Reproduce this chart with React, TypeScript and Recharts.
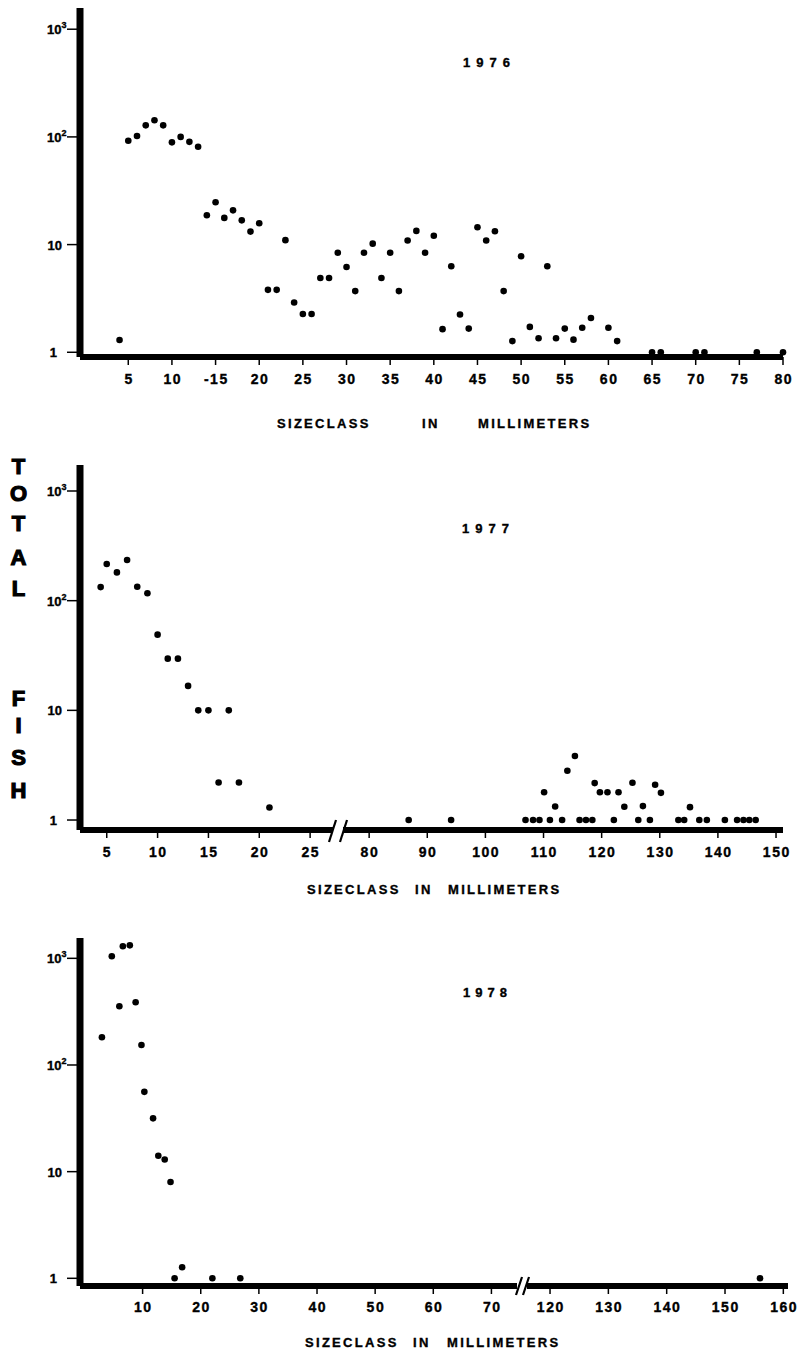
import React from 'react';
import { ScatterChart, Scatter, XAxis, YAxis } from 'recharts';

// ---------- DATA ----------
const yTicks = [1, 10, 100, 1000];

const sizes1976 = [4, 5, 6, 7, 8, 9, 10, 11, 12, 13, 14, 15, 16, 17, 18, 19, 20, 21, 22, 23, 24, 25, 26, 27, 28, 29, 30, 31, 32, 33, 34, 35, 36, 37, 38, 39, 40, 41, 42, 43, 44, 45, 46, 47, 48, 49, 50, 51, 52, 53, 54, 55, 56, 57, 58, 60, 61, 65, 66, 70, 71, 77, 80];
const fish1976 = [1.3, 92, 102, 128, 143, 128, 89, 100, 90, 81, 18.7, 24.7, 17.7, 20.8, 16.8, 13.2, 15.8, 3.8, 3.8, 11, 2.9, 2.27, 2.27, 4.9, 4.9, 8.4, 6.2, 3.7, 8.4, 10.2, 4.9, 8.4, 3.7, 10.9, 13.4, 8.4, 12.1, 1.64, 6.3, 2.24, 1.66, 14.5, 10.9, 13.3, 3.7, 1.27, 7.8, 1.72, 1.35, 6.3, 1.35, 1.66, 1.31, 1.69, 2.08, 1.69, 1.27, 1, 1, 1, 1, 1, 1];
const xTicks1976 = [5, 10, 15, 20, 25, 30, 35, 40, 45, 50, 55, 60, 65, 70, 75, 80];
const xTickLabels1976 = ['5', '10', '-15', '20', '25', '30', '35', '40', '45', '50', '55', '60', '65', '70', '75', '80'];

const sizes1977Small = [4.4, 5, 6, 7, 8, 9, 10, 11, 12, 13, 14, 15, 16, 17, 18, 21];
const fish1977Small = [133, 216, 181, 235, 134, 117, 49, 29.6, 29.6, 16.7, 10, 10, 2.2, 10, 2.2, 1.3];
const sizes1977Large = [86.8, 94.1, 106.9, 108.2, 109.3, 110.1, 111.1, 112, 113.2, 114.1, 115.4, 116.2, 117.3, 118.4, 118.8, 119.7, 121, 122.1, 122.9, 123.9, 125.3, 126.3, 127.1, 128.3, 129.2, 130.2, 133.2, 134.2, 135.2, 136.8, 138.1, 141.2, 143.3, 144.4, 145.4, 146.5];
const fish1977Large = [1, 1, 1, 1, 1, 1.79, 1, 1.33, 1, 2.81, 3.84, 1, 1, 1, 2.17, 1.79, 1.79, 1, 1.79, 1.32, 2.19, 1, 1.34, 1, 2.1, 1.77, 1, 1, 1.31, 1, 1, 1, 1, 1, 1, 1];
const xTicks1977Small = [5, 10, 15, 20, 25];
const xTicks1977Large = [80, 90, 100, 110, 120, 130, 140, 150];

const sizes1978Small = [3, 4.7, 6, 6.6, 7.8, 8.8, 9.8, 10.3, 11.8, 12.7, 13.8, 14.8, 15.5, 16.8, 22, 26.8];
const fish1978Small = [182, 1045, 355, 1296, 1324, 387, 154, 56, 31.6, 14.1, 13, 8, 1, 1.27, 1, 1];
const sizes1978Large = [156];
const fish1978Large = [1];
const xTicks1978Small = [10, 20, 30, 40, 50, 60, 70];
const xTicks1978Large = [120, 130, 140, 150, 160];

const yearTitles = ['1976', '1977', '1978'];
const xAxisTitleWords = ['SIZECLASS', 'IN', 'MILLIMETERS'];
const yAxisTitleLetters = ['T', 'O', 'T', 'A', 'L', 'F', 'I', 'S', 'H'];

// ---------- HELPERS ----------
const FONT = '"Liberation Sans", Arial, Helvetica, sans-serif';
const HEAVY = { stroke: '#000', strokeWidth: 0.35 };

const toPoints = (xs: number[], ys: number[]) => xs.map((x, i) => ({ x, y: ys[i] }));

const Dot = (props: any) => {
  const { cx, cy } = props;
  if (cx == null || cy == null) return null;
  return <circle cx={cx} cy={cy} r={3.3} fill="#000" />;
};

const YTick = (props: any) => {
  const { y, payload } = props;
  const v = payload.value;
  const exp = Math.round(Math.log10(v));
  const common = { fontFamily: FONT, fontWeight: 'bold' as const, fontSize: 13, fill: '#000', ...HEAVY };
  if (exp === 0) {
    return <text x={57} y={y + 5} textAnchor="end" {...common}>1</text>;
  }
  if (exp === 1) {
    return <text x={62} y={y + 5} textAnchor="end" {...common}>10</text>;
  }
  return (
    <text x={47} y={y + 5} textAnchor="start" {...common}>
      10
      <tspan dy={-6} fontSize={9}>{exp}</tspan>
    </text>
  );
};

const makeXTick = (ticks: number[], labels: string[] | null, dy: number) => (props: any) => {
  const { x, y, payload } = props;
  const i = ticks.indexOf(payload.value);
  const label = labels && i >= 0 ? labels[i] : String(payload.value);
  return (
    <text x={x + 0.75} y={y + dy} textAnchor="middle" fontFamily={FONT} fontWeight="bold" fontSize={14} letterSpacing={1.5} fill="#000" {...HEAVY}>
      {label}
    </text>
  );
};

type SegProps = {
  left: number;
  top: number;
  width: number;
  height: number;
  margin: { top: number; right: number; bottom: number; left: number };
  data: { x: number; y: number }[];
  xDomain: [number, number];
  yDomain: [number, number];
  xTicks: number[];
  xLabels: string[] | null;
  labelDy: number;
  xAxisHeight: number;
  showY: boolean;
};

const Segment = (p: SegProps) => (
  <div style={{ position: 'absolute', left: p.left, top: p.top, width: p.width, height: p.height }}>
    <ScatterChart width={p.width} height={p.height} margin={p.margin}>
      <XAxis
        type="number"
        dataKey="x"
        domain={p.xDomain}
        ticks={p.xTicks}
        interval={0}
        height={p.xAxisHeight}
        axisLine={{ stroke: '#000', strokeWidth: 6 }}
        tickLine={{ stroke: '#000', strokeWidth: 1.5 }}
        tickSize={8}
        tickMargin={2}
        tick={makeXTick(p.xTicks, p.xLabels, p.labelDy)}
      />
      <YAxis
        type="number"
        dataKey="y"
        scale="log"
        domain={p.yDomain}
        ticks={yTicks}
        interval={0}
        width={80}
        hide={!p.showY}
        axisLine={{ stroke: '#000', strokeWidth: 7 }}
        tickLine={{ stroke: '#000', strokeWidth: 1.5 }}
        tickSize={13}
        tick={YTick}
      />
      <Scatter data={p.data} isAnimationActive={false} shape={Dot} />
    </ScatterChart>
  </div>
);

const AxisTitle = ({ y, xs }: { y: number; xs: number[] }) => (
  <>
    {xAxisTitleWords.map((w, i) => (
      <text key={w} x={xs[i]} y={y} fontFamily={FONT} fontWeight="bold" fontSize={13} letterSpacing={2.3} fill="#000" {...HEAVY}>
        {w}
      </text>
    ))}
  </>
);

const letterCenters = [465, 492, 522, 556, 587, 697, 724, 756, 789];

export default function App() {
  const yDom1: [number, number] = [0.904, 1574];
  const yDom2: [number, number] = [0.811, 1726];
  const yDom3: [number, number] = [0.847, 1551];
  return (
    <div style={{ position: 'absolute', left: 0, top: 0, width: 800, height: 1353, background: '#fff', overflow: 'hidden' }}>
      {/* 1976 */}
      <Segment
        left={0} top={0} width={800} height={400}
        margin={{ top: 8, right: 17, bottom: 0, left: 0 }}
        data={toPoints(sizes1976, fish1976)}
        xDomain={[-0.53, 80]} yDomain={yDom1}
        xTicks={xTicks1976} xLabels={xTickLabels1976}
        labelDy={17} xAxisHeight={43} showY
      />
      {/* 1977 */}
      <Segment
        left={0} top={440} width={340} height={430}
        margin={{ top: 25, right: 7, bottom: 0, left: 0 }}
        data={toPoints(sizes1977Small, fish1977Small)}
        xDomain={[2.37, 27.25]} yDomain={yDom2}
        xTicks={xTicks1977Small} xLabels={null}
        labelDy={16.5} xAxisHeight={40} showY
      />
      <Segment
        left={335} top={440} width={465} height={430}
        margin={{ top: 25, right: 17, bottom: 0, left: 8 }}
        data={toPoints(sizes1977Large, fish1977Large)}
        xDomain={[75.5, 151.2]} yDomain={yDom2}
        xTicks={xTicks1977Large} xLabels={null}
        labelDy={16.5} xAxisHeight={40} showY={false}
      />
      {/* 1978 */}
      <Segment
        left={0} top={860} width={524} height={466}
        margin={{ top: 78, right: 7, bottom: 0, left: 0 }}
        data={toPoints(sizes1978Small, fish1978Small)}
        xDomain={[-0.77, 74.4]} yDomain={yDom3}
        xTicks={xTicks1978Small} xLabels={null}
        labelDy={15.5} xAxisHeight={40} showY
      />
      <Segment
        left={520} top={860} width={280} height={466}
        margin={{ top: 78, right: 12, bottom: 0, left: 7 }}
        data={toPoints(sizes1978Large, fish1978Large)}
        xDomain={[116.05, 160.8]} yDomain={yDom3}
        xTicks={xTicks1978Large} xLabels={null}
        labelDy={15.5} xAxisHeight={40} showY={false}
      />

      <svg width={800} height={1353} style={{ position: 'absolute', left: 0, top: 0, pointerEvents: 'none' }}>
        {/* year titles */}
        <text x={463} y={66.5} fontFamily={FONT} fontWeight="bold" fontSize={13} letterSpacing={6} fill="#000" {...HEAVY}>{yearTitles[0]}</text>
        <text x={462} y={533} fontFamily={FONT} fontWeight="bold" fontSize={13} letterSpacing={6} fill="#000" {...HEAVY}>{yearTitles[1]}</text>
        <text x={463} y={997} fontFamily={FONT} fontWeight="bold" fontSize={13} letterSpacing={5} fill="#000" {...HEAVY}>{yearTitles[2]}</text>

        {/* axis titles */}
        <AxisTitle y={428} xs={[277, 422, 478]} />
        <AxisTitle y={894} xs={[307, 415, 448]} />
        <AxisTitle y={1346.5} xs={[305, 413, 447]} />

        {/* vertical title */}
        {yAxisTitleLetters.map((l, i) => (
          <text key={i} x={18.5} y={letterCenters[i] + 8.5} textAnchor="middle" fontFamily={FONT} fontWeight="bold" fontSize={22} fill="#000" stroke="#000" strokeWidth={1.2}>
            {l}
          </text>
        ))}

        {/* axis breaks */}
        <g stroke="#000" strokeWidth={2.2}>
          <line x1={329} y1={842} x2={336} y2={820} />
          <line x1={340} y1={842} x2={347} y2={820} />
          <line x1={516} y1={1295} x2={522} y2={1277} />
          <line x1={523} y1={1295} x2={529} y2={1277} />
        </g>
      </svg>
    </div>
  );
}
